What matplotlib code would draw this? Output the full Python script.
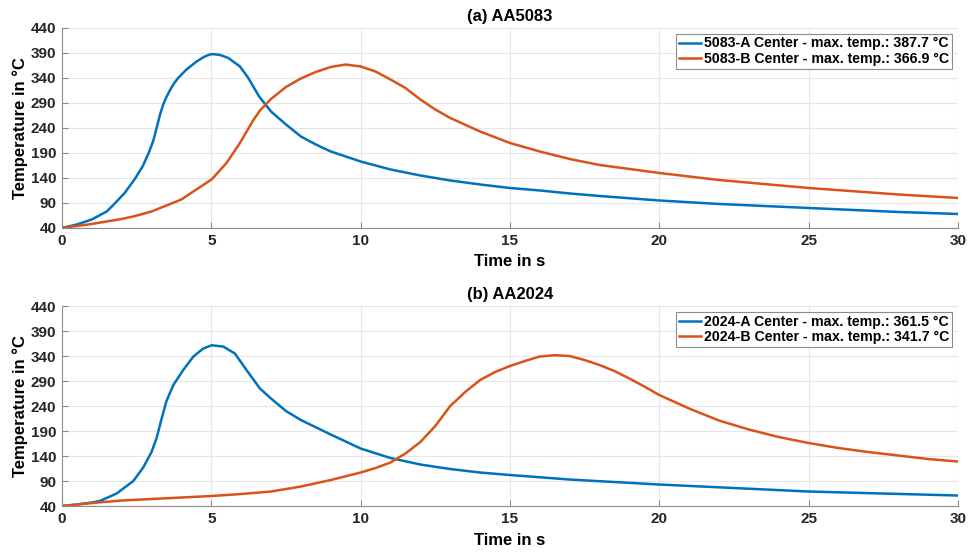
import matplotlib.pyplot as plt

# (a) AA5083
t_5083a = [0, 0.5, 1.0, 1.5, 1.72, 2.1, 2.44, 2.7, 2.89, 3.05, 3.17, 3.28, 3.39, 3.5, 3.62,
           3.75, 3.89, 4.17, 4.51, 4.75, 4.95, 5.07, 5.3, 5.57, 5.96, 6.24, 6.6, 7.0, 7.5, 8.0, 8.5,
           9.0, 10, 11, 12, 13, 14, 15, 16, 17, 18, 20, 22, 25, 28, 30]
T_5083a = [40, 47, 57, 73, 86, 110, 138, 163, 188, 213, 240, 266, 287, 302, 316,
           329, 340, 357, 373, 382, 387, 387.7, 386, 380, 363, 340, 303, 273, 247, 223, 207,
           193, 173, 157, 145, 135, 127, 120, 115, 109, 104, 95, 88, 80, 72, 68]

t_5083b = [0, 0.5, 1, 1.5, 2, 2.39, 3, 3.5, 4, 4.4, 5.01, 5.51, 5.96, 6.4, 6.63, 7, 7.5, 8,
           8.5, 9, 9.5, 10, 10.5, 11, 11.5, 12, 12.5, 13, 14, 15, 16, 17, 18, 20, 22, 25, 28, 30]
T_5083b = [40, 44, 48, 53, 58, 63, 73, 85, 97, 113, 137, 170, 210, 255, 275, 298, 322, 339,
           352, 362, 366.9, 363, 353, 337, 320, 297, 277, 260, 233, 210, 193, 178, 166, 150, 136, 120, 107, 100]

# (b) AA2024
t_2024a = [0, 0.5, 1, 1.27, 1.83, 2.39, 2.72, 3.0, 3.17, 3.33, 3.5, 3.73, 4.06, 4.4, 4.73,
           5.01, 5.4, 5.79, 6.18, 6.63, 7, 7.5, 8, 9, 10, 11, 12, 13, 14, 15, 17, 20, 25, 30]
T_2024a = [40, 43, 47, 50, 65, 90, 117, 148, 176, 213, 250, 282, 312, 339, 355,
           361.5, 359, 345, 312, 275, 255, 230, 212, 183, 155, 136, 123, 114, 107, 102, 93, 83, 69, 61]

t_2024b = [0, 1, 2, 3, 4, 5, 6, 7, 8, 9, 10, 10.5, 11, 11.5, 12, 12.5, 13, 13.5, 14, 14.5, 15,
           15.5, 16, 16.5, 17, 17.5, 18, 18.5, 19, 19.5, 20, 21, 22, 23, 24, 25, 26, 27, 28, 29, 30]
T_2024b = [40, 46, 51, 54, 57, 60, 64, 69, 79, 92, 107, 116, 127, 145, 168, 200, 240, 268, 292, 308, 320,
           330, 339, 341.7, 340, 332, 322, 310, 295, 279, 262, 235, 211, 193, 178, 166, 156, 148, 141, 134, 129]

xticks = [0, 5, 10, 15, 20, 25, 30]
yticks = list(range(40, 441, 50))

blue = '#0072BD'
orange = '#D95319'

plt.rcParams['font.family'] = ['Liberation Sans', 'DejaVu Sans']
plt.rcParams['font.weight'] = 'bold'

fig = plt.figure(figsize=(9.68, 5.52), dpi=100)
ax1 = fig.add_axes([0.064, 0.587, 0.9256, 0.3623])
ax2 = fig.add_axes([0.064, 0.0833, 0.9256, 0.3623])

panels = [
    (ax1, '(a) AA5083', t_5083a, T_5083a, '5083-A Center - max. temp.: 387.7 °C',
     t_5083b, T_5083b, '5083-B Center - max. temp.: 366.9 °C'),
    (ax2, '(b) AA2024', t_2024a, T_2024a, '2024-A Center - max. temp.: 361.5 °C',
     t_2024b, T_2024b, '2024-B Center - max. temp.: 341.7 °C'),
]

for ax, title, ta, Ta, la, tb, Tb, lb in panels:
    ax.plot(ta, Ta, color=blue, lw=1.8, label=la)
    ax.plot(tb, Tb, color=orange, lw=1.8, label=lb)
    ax.set_xlim(0, 30)
    ax.set_ylim(40, 440)
    ax.set_xticks(xticks)
    ax.set_yticks(yticks)
    ax.grid(True, color='#e6e6e6', lw=0.8)
    ax.set_axisbelow(True)
    for s in ['top', 'right']:
        ax.spines[s].set_visible(False)
    for s in ['left', 'bottom']:
        ax.spines[s].set_color('#8c8c8c')
    ax.tick_params(direction='in', length=4, color='#8c8c8c', labelsize=11,
                   labelcolor='#262626', pad=4)
    for lbl in ax.get_xticklabels() + ax.get_yticklabels():
        lbl.set_fontweight('bold')
    ax.set_title(title, fontsize=12, fontweight='bold', pad=5)
    ax.set_xlabel('Time in s', fontsize=12, fontweight='bold', labelpad=5)
    ax.set_ylabel('Temperature in °C', fontsize=12, fontweight='bold', labelpad=2)
    leg = ax.legend(loc='upper right', fontsize=10.2, fancybox=False, edgecolor='#8c8c8c',
                    framealpha=1, handlelength=1.6, handletextpad=0.2, labelspacing=0.1,
                    borderpad=0.2, borderaxespad=0.4)
    leg.get_frame().set_linewidth(0.8)
    for txt in leg.get_texts():
        txt.set_fontweight('bold')

fig.savefig('out.png', dpi=100)
